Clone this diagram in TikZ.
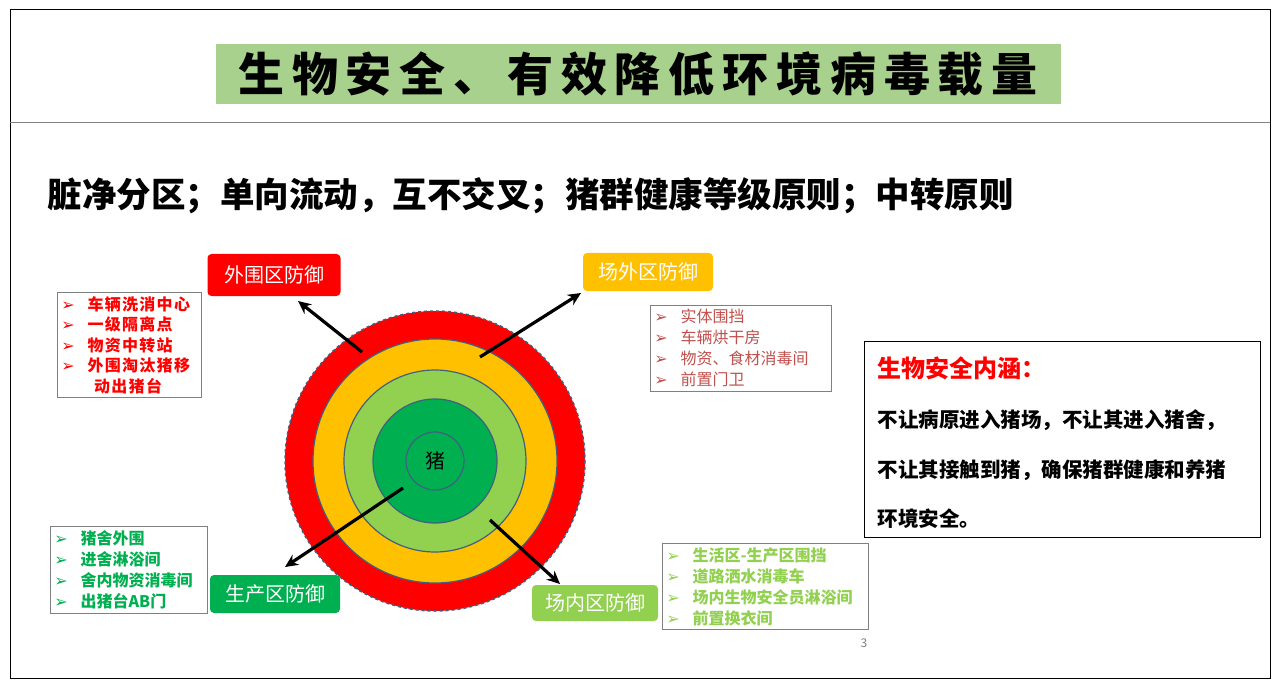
\documentclass[tikz,border=0pt]{standalone}
\usepackage{fontspec}
\setmainfont{Noto Sans CJK SC}
\newfontfamily\dv{DejaVu Sans}
\usetikzlibrary{arrows.meta}
\definecolor{tg}{HTML}{A9D18E}
\definecolor{rd}{HTML}{FF0000}
\definecolor{yl}{HTML}{FFC000}
\definecolor{lg}{HTML}{92D050}
\definecolor{dg}{HTML}{00B050}
\definecolor{rg}{HTML}{41607F}
\definecolor{mr}{HTML}{C0504D}
\newcommand{\bl}{{\dv\char"27A2}\hspace{0.8em}}
\tikzset{
 lab/.style={rounded corners=4pt,text=white,font=\fontsize{20}{20}\selectfont,inner sep=0pt,minimum height=38pt,minimum width=130pt},
 lst/.style={draw=gray,line width=0.8pt,align=left,anchor=north west,inner sep=4pt,font=\fontsize{16}{21}\selectfont\bfseries},
 arr/.style={-{Stealth[length=13pt,width=12pt]},line width=3.2pt},
 ring/.style={draw=rg,line width=1.2pt}
}
\begin{document}
\begin{tikzpicture}[x=1pt,y=-1pt]
\useasboundingbox (0,0) rectangle (1280,687);
\fill[white] (0,0) rectangle (1280,687);
\draw[line width=1pt] (10,10) rectangle (1270,678);
\draw[line width=0.6pt,gray] (10,122) -- (1270,122);
\node[fill=tg,minimum width=845pt,minimum height=60pt,inner sep=0pt,font=\fontsize{46}{46}\selectfont\bfseries\addfontfeature{LetterSpace=17}] (title) at (638,74) {生物安全、有效降低环境病毒载量};
\node[anchor=west,font=\fontsize{34.5}{34.5}\selectfont\bfseries] (sub) at (44,196) {脏净分区；单向流动，互不交叉；猪群健康等级原则；中转原则};
% circles
\coordinate (c) at (435,461);
\fill[rd] (c) circle (150);
\draw[rg,dashed,line width=1.5pt] (c) circle (150);
\fill[yl] (c) circle (122); \draw[ring] (c) circle (122);
\fill[lg] (c) circle (91); \draw[ring] (c) circle (91);
\fill[dg] (c) circle (62); \draw[ring] (c) circle (62);
\node[circle,ring,minimum size=58pt,inner sep=0pt,font=\fontsize{20}{20}\selectfont] (pig) at (435,461) {猪};
% labels
\node[lab,fill=rd,minimum width=133pt,minimum height=42pt] (l1) at (274,275) {外围区防御};
\node[lab,fill=yl] (l2) at (648,272) {场外区防御};
\node[lab,fill=dg] (l3) at (275,594) {生产区防御};
\node[lab,fill=lg,minimum width=126pt,minimum height=36pt] (l4) at (595,603) {场内区防御};
\coordinate (a1) at (362,352); \coordinate (a2) at (480,357);
\coordinate (a3) at (403,488); \coordinate (a4) at (490,520);
\coordinate (e1) at (298,301); \coordinate (e2) at (581,293);
\coordinate (e3) at (285,567); \coordinate (e4) at (560,584);
\draw[arr] (a1) -- (e1);
\draw[arr] (a2) -- (e2);
\draw[arr] (a3) -- (e3);
\draw[arr] (a4) -- (e4);
% lists
\node[lst,text=rd,text width=136pt,font=\fontsize{16}{20.5}\selectfont\bfseries\addfontfeature{LetterSpace=8}] (b1) at (57,292) {\bl 车辆洗消中心\\\bl 一级隔离点\\\bl 物资中转站\\\bl 外围淘汰猪移\\\hspace{2.05em}动出猪台};
\node[lst,text=mr,font=\fontsize{16}{21}\selectfont,text width=173pt] (b2) at (650,305) {\bl 实体围挡\\\bl 车辆烘干房\\\bl 物资、食材消毒间\\\bl 前置门卫};
\node[lst,text=dg,text width=149pt] (b3) at (50,526) {\bl 猪舍外围\\\bl 进舍淋浴间\\\bl 舍内物资消毒间\\\bl 出猪台AB门};
\node[lst,text=lg,text width=198pt] (b4) at (662,543) {\bl 生活区-生产区围挡\\\bl 道路洒水消毒车\\\bl 场内生物安全员淋浴间\\\bl 前置换衣间};
\node[font=\fontsize{12}{12}\selectfont,text=gray] (pg) at (864,643) {3};
% right box
\draw[line width=1pt] (864,341) rectangle (1260,537);
\node[anchor=west,text=rd,font=\fontsize{24}{24}\selectfont\bfseries] (rt) at (874,368) {生物安全内涵：};
\node[anchor=west,font=\fontsize{20.5}{20.5}\selectfont\bfseries] (r1) at (874,420) {不让病原进入猪场，不让其进入猪舍，};
\node[anchor=west,font=\fontsize{20.5}{20.5}\selectfont\bfseries] (r2) at (874,470) {不让其接触到猪，确保猪群健康和养猪};
\node[anchor=west,font=\fontsize{20.5}{20.5}\selectfont\bfseries] (r3) at (874,519) {环境安全。};
\end{tikzpicture}
\end{document}
